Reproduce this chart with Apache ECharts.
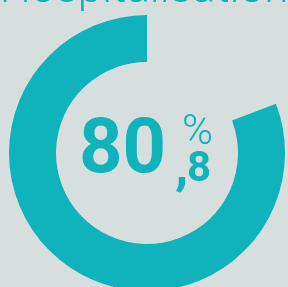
<!DOCTYPE html>
<html>
<head>
<meta charset="utf-8">
<script src="https://cdn.jsdelivr.net/npm/echarts@6/dist/echarts.min.js"></script>
<style>
  html, body { margin: 0; padding: 0; background: #d6dfde; }
  #chart { width: 288px; height: 287px; }
</style>
</head>
<body>
<div id="chart"></div>
<script>
// share value (percent) and the rest
const labels = ["Hospitalisation", "Reste"];
const values = [80.8, 19.2];
const title = "Hospitalisation";

const teal = "#10b2bb";

let option = {
  backgroundColor: "#d6dfde",
  animation: false,
  series: [
    {
      type: "pie",
      silent: true,
      center: [147, 153],
      radius: [91, 138],
      startAngle: 90,
      clockwise: false,
      label: { show: false },
      labelLine: { show: false },
      data: [
        { name: labels[0], value: values[0], itemStyle: { color: teal } },
        { name: labels[1], value: values[1], itemStyle: { color: "transparent" } }
      ]
    }
  ],
  graphic: [
    {
      type: "text",
      left: "center",
      top: -31,
      style: {
        text: title,
        font: "300 44px Roboto",
        fill: teal
      }
    },
    {
      type: "text",
      x: 79,
      y: 115,
      style: {
        text: "80",
        font: "bold 76px Roboto",
        fill: teal
      }
    },
    {
      type: "text",
      x: 175,
      y: 142,
      style: {
        text: ",",
        font: "bold 54px Roboto",
        fill: teal
      }
    },
    {
      type: "text",
      x: 182,
      y: 112,
      style: {
        text: "%",
        font: "300 42px Roboto",
        fill: teal
      }
    },
    {
      type: "text",
      x: 187,
      y: 149,
      style: {
        text: "8",
        font: "bold 42px Roboto",
        fill: teal
      }
    }
  ]
};

echarts.init(document.getElementById("chart")).setOption(option);
</script>
</body>
</html>
